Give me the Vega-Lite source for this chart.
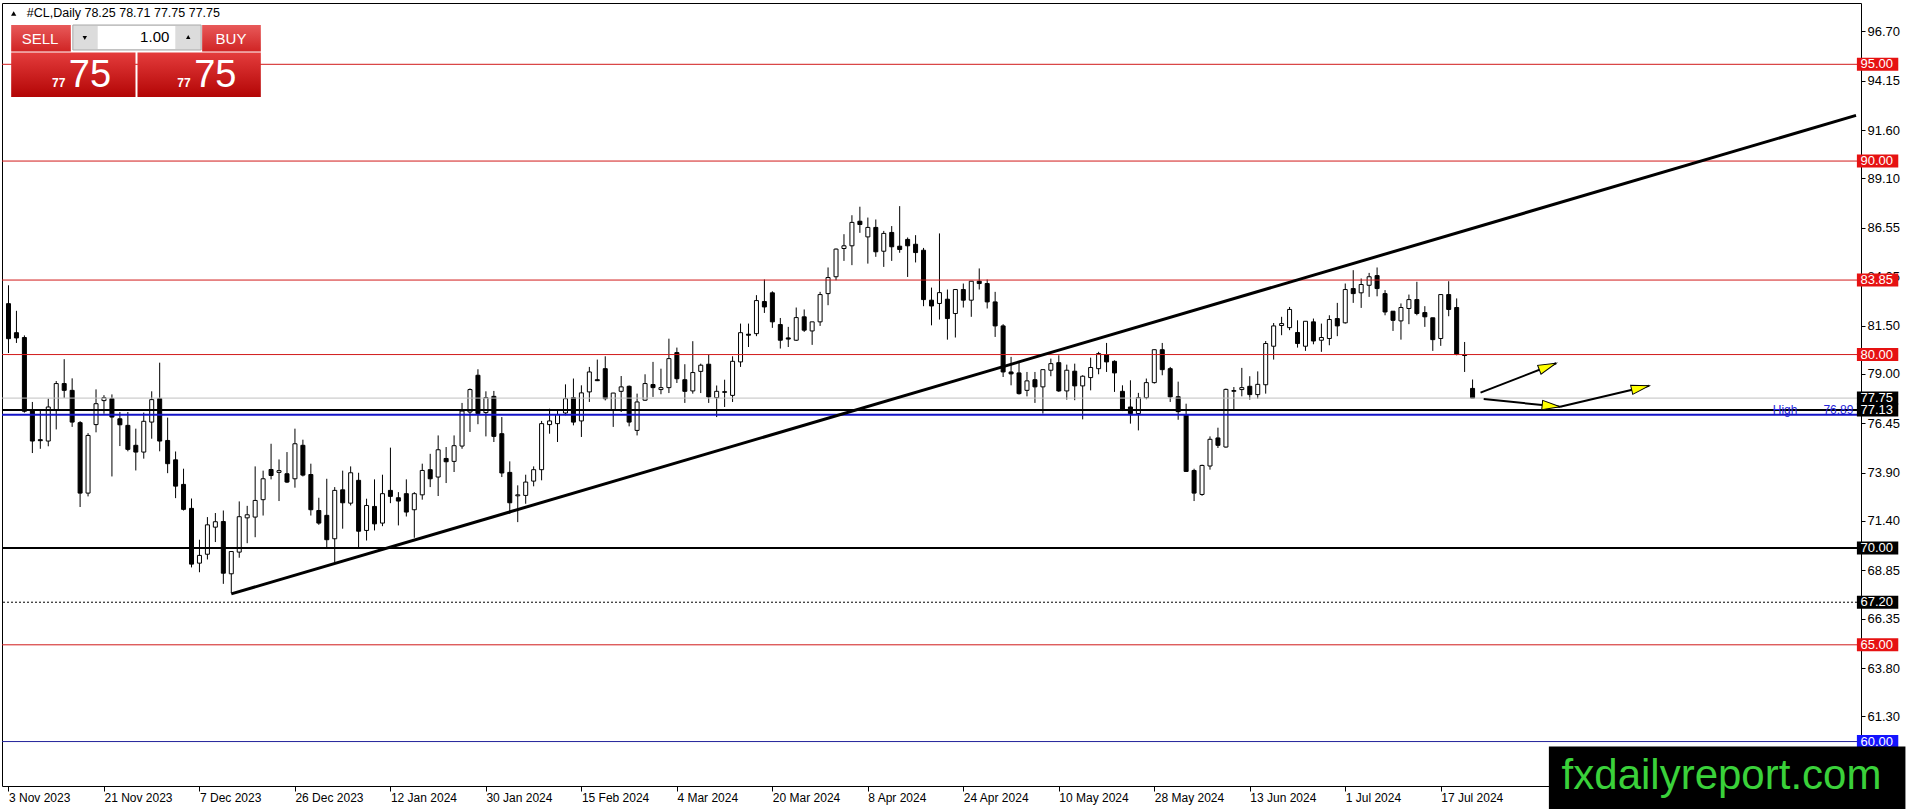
{
  "$schema": "https://vega.github.io/schema/vega-lite/v6.json",
  "width": 1859,
  "height": 783,
  "autosize": {"type": "none"},
  "padding": {"left": 2, "top": 3, "right": 49, "bottom": 23},
  "background": "#ffffff",
  "config": {
    "view": {"stroke": "#000000", "strokeWidth": 1},
    "axis": {"grid": false, "domain": false, "tickColor": "#000000", "labelColor": "#000000", "labelFont": "Liberation Sans", "titleOpacity": 0}
  },
  "datasets": {
    "bars": [
      {"i":0,"d":"2023-11-03","o":82.63,"h":83.58,"l":80.08,"c":80.82},
      {"i":1,"d":"2023-11-06","o":81.13,"h":82.26,"l":80.6,"c":80.86},
      {"i":2,"d":"2023-11-07","o":80.88,"h":80.99,"l":77.0,"c":77.07},
      {"i":3,"d":"2023-11-08","o":77.12,"h":77.55,"l":74.91,"c":75.53},
      {"i":4,"d":"2023-11-09","o":75.6,"h":77.12,"l":75.13,"c":75.55},
      {"i":5,"d":"2023-11-10","o":75.53,"h":77.72,"l":75.26,"c":77.29},
      {"i":6,"d":"2023-11-13","o":77.15,"h":78.63,"l":76.13,"c":78.5},
      {"i":7,"d":"2023-11-14","o":78.5,"h":79.76,"l":77.76,"c":78.15},
      {"i":8,"d":"2023-11-15","o":78.15,"h":78.77,"l":76.26,"c":76.51},
      {"i":9,"d":"2023-11-16","o":76.48,"h":76.56,"l":72.12,"c":72.84},
      {"i":10,"d":"2023-11-17","o":72.84,"h":75.94,"l":72.67,"c":75.82},
      {"i":11,"d":"2023-11-20","o":76.38,"h":78.2,"l":75.98,"c":77.46},
      {"i":12,"d":"2023-11-21","o":77.62,"h":77.9,"l":76.94,"c":77.77},
      {"i":13,"d":"2023-11-22","o":77.72,"h":77.94,"l":73.7,"c":76.77},
      {"i":14,"d":"2023-11-23","o":76.68,"h":77.03,"l":75.27,"c":76.37},
      {"i":15,"d":"2023-11-24","o":76.34,"h":77.03,"l":75.0,"c":75.1},
      {"i":16,"d":"2023-11-27","o":75.31,"h":76.17,"l":74.01,"c":74.96},
      {"i":17,"d":"2023-11-28","o":74.96,"h":77.0,"l":74.62,"c":76.55},
      {"i":18,"d":"2023-11-29","o":76.51,"h":78.1,"l":75.65,"c":77.67},
      {"i":19,"d":"2023-11-30","o":77.72,"h":79.58,"l":75.0,"c":75.53},
      {"i":20,"d":"2023-12-01","o":75.56,"h":76.74,"l":73.87,"c":74.36},
      {"i":21,"d":"2023-12-04","o":74.56,"h":74.99,"l":72.58,"c":73.2},
      {"i":22,"d":"2023-12-05","o":73.29,"h":74.1,"l":71.94,"c":72.0},
      {"i":23,"d":"2023-12-06","o":72.05,"h":72.56,"l":69.0,"c":69.17},
      {"i":24,"d":"2023-12-07","o":69.22,"h":70.43,"l":68.75,"c":69.62},
      {"i":25,"d":"2023-12-08","o":69.68,"h":71.6,"l":69.41,"c":71.2},
      {"i":26,"d":"2023-12-11","o":71.08,"h":71.81,"l":70.31,"c":71.36},
      {"i":27,"d":"2023-12-12","o":71.37,"h":71.94,"l":68.15,"c":68.7},
      {"i":28,"d":"2023-12-13","o":68.67,"h":69.84,"l":67.67,"c":69.82},
      {"i":29,"d":"2023-12-14","o":69.79,"h":72.41,"l":69.5,"c":71.62},
      {"i":30,"d":"2023-12-15","o":71.56,"h":72.18,"l":70.25,"c":71.72},
      {"i":31,"d":"2023-12-18","o":71.6,"h":74.22,"l":70.56,"c":72.46},
      {"i":32,"d":"2023-12-19","o":72.5,"h":74.0,"l":71.68,"c":73.58},
      {"i":33,"d":"2023-12-20","o":74.06,"h":75.39,"l":73.55,"c":73.75},
      {"i":34,"d":"2023-12-21","o":73.91,"h":74.58,"l":72.43,"c":74.0},
      {"i":35,"d":"2023-12-22","o":73.84,"h":74.96,"l":73.36,"c":73.41},
      {"i":36,"d":"2023-12-26","o":73.58,"h":76.17,"l":73.12,"c":75.39},
      {"i":37,"d":"2023-12-27","o":75.31,"h":75.6,"l":73.7,"c":73.77},
      {"i":38,"d":"2023-12-28","o":73.8,"h":74.36,"l":71.68,"c":71.98},
      {"i":39,"d":"2023-12-29","o":71.94,"h":72.6,"l":71.2,"c":71.29},
      {"i":40,"d":"2024-01-02","o":71.69,"h":73.58,"l":70.05,"c":70.43},
      {"i":41,"d":"2024-01-03","o":70.48,"h":73.15,"l":69.27,"c":72.98},
      {"i":42,"d":"2024-01-04","o":73.01,"h":74.0,"l":71.0,"c":72.34},
      {"i":43,"d":"2024-01-05","o":72.32,"h":74.22,"l":72.2,"c":73.89},
      {"i":44,"d":"2024-01-08","o":73.5,"h":73.89,"l":70.05,"c":70.87},
      {"i":45,"d":"2024-01-09","o":70.91,"h":72.55,"l":70.39,"c":72.2},
      {"i":46,"d":"2024-01-10","o":72.15,"h":73.55,"l":70.91,"c":71.25},
      {"i":47,"d":"2024-01-11","o":71.29,"h":73.79,"l":71.13,"c":72.81},
      {"i":48,"d":"2024-01-12","o":72.98,"h":75.19,"l":72.32,"c":72.67},
      {"i":49,"d":"2024-01-15","o":72.6,"h":72.89,"l":71.17,"c":72.43},
      {"i":50,"d":"2024-01-16","o":72.81,"h":73.55,"l":71.63,"c":71.86},
      {"i":51,"d":"2024-01-17","o":71.98,"h":72.89,"l":70.53,"c":72.81},
      {"i":52,"d":"2024-01-18","o":72.75,"h":74.36,"l":72.5,"c":74.01},
      {"i":53,"d":"2024-01-19","o":74.05,"h":74.87,"l":73.15,"c":73.58},
      {"i":54,"d":"2024-01-22","o":73.67,"h":75.82,"l":72.69,"c":75.08},
      {"i":55,"d":"2024-01-23","o":74.63,"h":75.22,"l":73.36,"c":74.46},
      {"i":56,"d":"2024-01-24","o":74.48,"h":75.82,"l":73.93,"c":75.29},
      {"i":57,"d":"2024-01-25","o":75.27,"h":77.5,"l":75.13,"c":77.08},
      {"i":58,"d":"2024-01-26","o":77.03,"h":78.25,"l":76.0,"c":78.19},
      {"i":59,"d":"2024-01-29","o":78.93,"h":79.24,"l":76.4,"c":76.95},
      {"i":60,"d":"2024-01-30","o":77.0,"h":78.1,"l":75.77,"c":77.77},
      {"i":61,"d":"2024-01-31","o":77.84,"h":78.12,"l":75.48,"c":75.77},
      {"i":62,"d":"2024-02-01","o":75.91,"h":76.77,"l":73.67,"c":73.88},
      {"i":63,"d":"2024-02-02","o":73.91,"h":74.48,"l":71.77,"c":72.34},
      {"i":64,"d":"2024-02-05","o":72.7,"h":73.24,"l":71.34,"c":72.75},
      {"i":65,"d":"2024-02-06","o":72.72,"h":73.79,"l":72.29,"c":73.41},
      {"i":66,"d":"2024-02-07","o":73.46,"h":74.22,"l":73.19,"c":74.05},
      {"i":67,"d":"2024-02-08","o":74.05,"h":76.57,"l":73.5,"c":76.43},
      {"i":68,"d":"2024-02-09","o":76.38,"h":77.2,"l":75.91,"c":76.57},
      {"i":69,"d":"2024-02-12","o":76.43,"h":77.1,"l":75.48,"c":76.9},
      {"i":70,"d":"2024-02-13","o":76.98,"h":78.46,"l":76.86,"c":77.72},
      {"i":71,"d":"2024-02-14","o":77.77,"h":78.76,"l":76.34,"c":76.51},
      {"i":72,"d":"2024-02-15","o":76.57,"h":78.41,"l":75.74,"c":78.02},
      {"i":73,"d":"2024-02-16","o":78.07,"h":79.36,"l":77.55,"c":79.1},
      {"i":74,"d":"2024-02-19","o":78.7,"h":79.74,"l":78.63,"c":78.65},
      {"i":75,"d":"2024-02-20","o":79.27,"h":79.91,"l":77.63,"c":77.72},
      {"i":76,"d":"2024-02-21","o":77.12,"h":78.02,"l":76.26,"c":78.01},
      {"i":77,"d":"2024-02-22","o":78.1,"h":78.89,"l":77.03,"c":78.33},
      {"i":78,"d":"2024-02-23","o":78.36,"h":78.4,"l":76.29,"c":76.51},
      {"i":79,"d":"2024-02-26","o":76.08,"h":77.98,"l":75.82,"c":77.55},
      {"i":80,"d":"2024-02-27","o":77.64,"h":78.98,"l":77.6,"c":78.5},
      {"i":81,"d":"2024-02-28","o":78.45,"h":79.62,"l":77.81,"c":78.29},
      {"i":82,"d":"2024-02-29","o":78.19,"h":79.27,"l":77.95,"c":78.29},
      {"i":83,"d":"2024-03-01","o":78.29,"h":80.82,"l":78.01,"c":79.79},
      {"i":84,"d":"2024-03-04","o":80.1,"h":80.36,"l":78.53,"c":78.75},
      {"i":85,"d":"2024-03-05","o":78.7,"h":79.5,"l":77.5,"c":78.1},
      {"i":86,"d":"2024-03-06","o":78.12,"h":80.69,"l":77.98,"c":79.07},
      {"i":87,"d":"2024-03-07","o":79.13,"h":79.53,"l":78.01,"c":79.45},
      {"i":88,"d":"2024-03-08","o":79.5,"h":80.0,"l":77.5,"c":77.81},
      {"i":89,"d":"2024-03-11","o":77.77,"h":78.4,"l":76.77,"c":78.1},
      {"i":90,"d":"2024-03-12","o":78.08,"h":78.7,"l":77.29,"c":78.05},
      {"i":91,"d":"2024-03-13","o":77.89,"h":79.91,"l":77.55,"c":79.65},
      {"i":92,"d":"2024-03-14","o":79.62,"h":81.6,"l":79.36,"c":81.13},
      {"i":93,"d":"2024-03-15","o":81.05,"h":81.6,"l":80.39,"c":81.0},
      {"i":94,"d":"2024-03-18","o":81.08,"h":83.07,"l":80.95,"c":82.79},
      {"i":95,"d":"2024-03-19","o":82.74,"h":83.88,"l":82.15,"c":82.46},
      {"i":96,"d":"2024-03-20","o":83.19,"h":83.27,"l":81.38,"c":81.69},
      {"i":97,"d":"2024-03-21","o":81.55,"h":81.89,"l":80.31,"c":80.74},
      {"i":98,"d":"2024-03-22","o":80.86,"h":81.43,"l":80.39,"c":80.8},
      {"i":99,"d":"2024-03-25","o":80.74,"h":82.43,"l":80.7,"c":81.91},
      {"i":100,"d":"2024-03-26","o":81.95,"h":82.33,"l":81.17,"c":81.26},
      {"i":101,"d":"2024-03-27","o":81.22,"h":81.69,"l":80.5,"c":81.69},
      {"i":102,"d":"2024-03-28","o":81.69,"h":83.24,"l":81.48,"c":83.1},
      {"i":103,"d":"2024-04-01","o":83.15,"h":84.5,"l":82.55,"c":83.98},
      {"i":104,"d":"2024-04-02","o":84.02,"h":85.48,"l":83.84,"c":85.45},
      {"i":105,"d":"2024-04-03","o":85.48,"h":86.22,"l":84.84,"c":85.62},
      {"i":106,"d":"2024-04-04","o":85.62,"h":87.2,"l":84.62,"c":86.83},
      {"i":107,"d":"2024-04-05","o":86.89,"h":87.64,"l":86.29,"c":86.72},
      {"i":108,"d":"2024-04-08","o":86.08,"h":87.08,"l":84.7,"c":86.57},
      {"i":109,"d":"2024-04-09","o":86.57,"h":86.98,"l":85.05,"c":85.31},
      {"i":110,"d":"2024-04-10","o":85.34,"h":86.39,"l":84.53,"c":86.26},
      {"i":111,"d":"2024-04-11","o":86.31,"h":86.64,"l":84.84,"c":85.57},
      {"i":112,"d":"2024-04-12","o":85.6,"h":87.67,"l":85.26,"c":85.43},
      {"i":113,"d":"2024-04-15","o":85.95,"h":86.05,"l":84.01,"c":85.62},
      {"i":114,"d":"2024-04-16","o":85.7,"h":86.17,"l":84.76,"c":85.27},
      {"i":115,"d":"2024-04-17","o":85.39,"h":85.51,"l":82.5,"c":82.84},
      {"i":116,"d":"2024-04-18","o":82.81,"h":83.46,"l":81.51,"c":82.51},
      {"i":117,"d":"2024-04-19","o":82.64,"h":86.26,"l":81.81,"c":83.2},
      {"i":118,"d":"2024-04-22","o":82.86,"h":83.36,"l":80.77,"c":81.86},
      {"i":119,"d":"2024-04-23","o":82.12,"h":83.36,"l":80.88,"c":83.36},
      {"i":120,"d":"2024-04-24","o":83.36,"h":83.67,"l":82.43,"c":82.81},
      {"i":121,"d":"2024-04-25","o":82.81,"h":83.79,"l":81.95,"c":83.79},
      {"i":122,"d":"2024-04-26","o":83.79,"h":84.45,"l":83.36,"c":83.67},
      {"i":123,"d":"2024-04-29","o":83.67,"h":83.88,"l":82.38,"c":82.72},
      {"i":124,"d":"2024-04-30","o":82.72,"h":83.24,"l":80.91,"c":81.48},
      {"i":125,"d":"2024-05-01","o":81.48,"h":81.57,"l":78.84,"c":79.1},
      {"i":126,"d":"2024-05-02","o":79.1,"h":79.88,"l":78.41,"c":79.0},
      {"i":127,"d":"2024-05-03","o":79.05,"h":79.58,"l":77.93,"c":77.98},
      {"i":128,"d":"2024-05-06","o":78.15,"h":79.1,"l":77.84,"c":78.64},
      {"i":129,"d":"2024-05-07","o":78.7,"h":79.1,"l":77.5,"c":78.33},
      {"i":130,"d":"2024-05-08","o":78.33,"h":79.22,"l":76.95,"c":79.22},
      {"i":131,"d":"2024-05-09","o":79.19,"h":79.79,"l":78.88,"c":79.53},
      {"i":132,"d":"2024-05-10","o":79.58,"h":79.96,"l":78.07,"c":78.12},
      {"i":133,"d":"2024-05-13","o":78.12,"h":79.48,"l":77.67,"c":79.19},
      {"i":134,"d":"2024-05-14","o":79.14,"h":79.53,"l":77.64,"c":78.38},
      {"i":135,"d":"2024-05-15","o":78.38,"h":78.93,"l":76.65,"c":78.88},
      {"i":136,"d":"2024-05-16","o":78.81,"h":79.84,"l":78.15,"c":79.33},
      {"i":137,"d":"2024-05-17","o":79.27,"h":80.14,"l":78.98,"c":80.05},
      {"i":138,"d":"2024-05-20","o":80.0,"h":80.6,"l":79.1,"c":79.62},
      {"i":139,"d":"2024-05-21","o":79.65,"h":79.7,"l":78.07,"c":79.05},
      {"i":140,"d":"2024-05-22","o":78.1,"h":78.41,"l":77.08,"c":77.12},
      {"i":141,"d":"2024-05-23","o":77.29,"h":78.67,"l":76.43,"c":76.95},
      {"i":142,"d":"2024-05-24","o":76.95,"h":78.02,"l":76.08,"c":77.77},
      {"i":143,"d":"2024-05-27","o":77.77,"h":78.76,"l":77.69,"c":78.55},
      {"i":144,"d":"2024-05-28","o":78.55,"h":80.26,"l":78.5,"c":80.25},
      {"i":145,"d":"2024-05-29","o":80.25,"h":80.6,"l":78.93,"c":79.22},
      {"i":146,"d":"2024-05-30","o":79.27,"h":79.36,"l":77.55,"c":77.81},
      {"i":147,"d":"2024-05-31","o":77.82,"h":78.6,"l":76.63,"c":77.05},
      {"i":148,"d":"2024-06-03","o":76.89,"h":77.46,"l":73.93,"c":73.96},
      {"i":149,"d":"2024-06-04","o":74.01,"h":74.1,"l":72.43,"c":72.84},
      {"i":150,"d":"2024-06-05","o":72.77,"h":74.31,"l":72.7,"c":74.27},
      {"i":151,"d":"2024-06-06","o":74.24,"h":75.77,"l":74.05,"c":75.62},
      {"i":152,"d":"2024-06-07","o":75.69,"h":76.22,"l":75.17,"c":75.31},
      {"i":153,"d":"2024-06-10","o":75.22,"h":78.24,"l":75.19,"c":78.2},
      {"i":154,"d":"2024-06-11","o":78.1,"h":78.32,"l":77.12,"c":78.14},
      {"i":155,"d":"2024-06-12","o":78.19,"h":79.31,"l":77.84,"c":78.29},
      {"i":156,"d":"2024-06-13","o":78.36,"h":78.88,"l":77.67,"c":77.93},
      {"i":157,"d":"2024-06-14","o":77.93,"h":79.13,"l":77.72,"c":78.46},
      {"i":158,"d":"2024-06-17","o":78.44,"h":80.7,"l":77.98,"c":80.57},
      {"i":159,"d":"2024-06-18","o":80.43,"h":81.63,"l":79.74,"c":81.48},
      {"i":160,"d":"2024-06-19","o":81.5,"h":81.95,"l":81.0,"c":81.6},
      {"i":161,"d":"2024-06-20","o":81.39,"h":82.46,"l":81.26,"c":82.33},
      {"i":162,"d":"2024-06-21","o":81.14,"h":81.77,"l":80.36,"c":80.57},
      {"i":163,"d":"2024-06-24","o":80.43,"h":81.72,"l":80.19,"c":81.72},
      {"i":164,"d":"2024-06-25","o":81.69,"h":81.86,"l":80.53,"c":80.7},
      {"i":165,"d":"2024-06-26","o":80.74,"h":81.6,"l":80.14,"c":80.88},
      {"i":166,"d":"2024-06-27","o":80.83,"h":82.03,"l":80.48,"c":81.81},
      {"i":167,"d":"2024-06-28","o":81.86,"h":82.67,"l":80.95,"c":81.48},
      {"i":168,"d":"2024-07-01","o":81.64,"h":83.67,"l":81.6,"c":83.36},
      {"i":169,"d":"2024-07-02","o":83.41,"h":84.36,"l":82.67,"c":83.15},
      {"i":170,"d":"2024-07-03","o":83.19,"h":83.93,"l":82.41,"c":83.62},
      {"i":171,"d":"2024-07-04","o":83.58,"h":84.22,"l":82.98,"c":84.02},
      {"i":172,"d":"2024-07-05","o":84.08,"h":84.5,"l":83.01,"c":83.41},
      {"i":173,"d":"2024-07-08","o":83.15,"h":83.33,"l":82.03,"c":82.2},
      {"i":174,"d":"2024-07-09","o":82.24,"h":82.24,"l":81.22,"c":81.77},
      {"i":175,"d":"2024-07-10","o":81.74,"h":82.64,"l":80.77,"c":82.43},
      {"i":176,"d":"2024-07-11","o":82.38,"h":83.1,"l":81.57,"c":82.84},
      {"i":177,"d":"2024-07-12","o":82.84,"h":83.76,"l":82.03,"c":82.12},
      {"i":178,"d":"2024-07-15","o":82.17,"h":82.5,"l":81.43,"c":81.95},
      {"i":179,"d":"2024-07-16","o":81.9,"h":81.9,"l":80.19,"c":80.77},
      {"i":180,"d":"2024-07-17","o":80.83,"h":83.1,"l":80.45,"c":83.1},
      {"i":181,"d":"2024-07-18","o":83.1,"h":83.79,"l":81.98,"c":82.33},
      {"i":182,"d":"2024-07-19","o":82.43,"h":82.9,"l":79.96,"c":80.02},
      {"i":183,"d":"2024-07-22","o":80.0,"h":80.65,"l":79.1,"c":79.95},
      {"i":184,"d":"2024-07-23","o":78.25,"h":78.71,"l":77.75,"c":77.75}
    ],
    "levels": [
      {"p": 95, "k": "r"},
      {"p": 90, "k": "r"},
      {"p": 83.85, "k": "r"},
      {"p": 80, "k": "r"},
      {"p": 77.75, "k": "g"},
      {"p": 77.13, "k": "s"},
      {"p": 76.89, "k": "h"},
      {"p": 70, "k": "s"},
      {"p": 67.2, "k": "d"},
      {"p": 65, "k": "r"},
      {"p": 60, "k": "b"}
    ],
    "trend": [
      {"i": 28, "p": 67.63, "i2": 232.19, "p2": 92.36}
    ],
    "arrows": [
      {"a": 1, "i": 185.0, "p": 78.03, "i2": 194.5, "p2": 79.55},
      {"a": 2, "i": 185.4, "p": 77.70, "i2": 195.0, "p2": 77.30},
      {"a": 3, "i": 195.0, "p": 77.30, "i2": 206.2, "p2": 78.39}
    ]
  },
  "data": {"name": "bars"},
  "layer": [
    {
      "mark": {"type": "rule", "color": "#000000", "strokeWidth": 1, "clip": true},
      "encoding": {
        "x": {
          "field": "i", "type": "quantitative", "title": null,
          "scale": {"domain": [-0.1875, 232.1875], "nice": false, "zero": false},
          "axis": {
            "orient": "bottom",
            "values": [0, 12, 24, 36, 48, 60, 72, 84, 96, 108, 120, 132, 144, 156, 168, 180],
            "labelExpr": "['3 Nov 2023','21 Nov 2023','7 Dec 2023','26 Dec 2023','12 Jan 2024','30 Jan 2024','15 Feb 2024','4 Mar 2024','20 Mar 2024','8 Apr 2024','24 Apr 2024','10 May 2024','28 May 2024','13 Jun 2024','1 Jul 2024','17 Jul 2024'][round(datum.value / 12)]",
            "labelAlign": "left", "labelBaseline": "top", "labelFontSize": 12,
            "tickSize": 5, "labelPadding": 1, "labelOverlap": false, "labelFlush": false, "labelBound": false
          }
        },
        "y": {
          "field": "l", "type": "quantitative", "title": null,
          "scale": {"domain": [57.703, 98.168], "nice": false, "zero": false},
          "axis": {
            "orient": "right",
            "values": [96.7, 94.15, 91.6, 89.1, 86.55, 84.05, 81.5, 79.0, 76.45, 73.9, 71.4, 68.85, 66.35, 63.8, 61.3],
            "format": ".2f", "labelFontSize": 13, "tickSize": 4, "labelPadding": 2, "labelOverlap": false, "labelFlush": false, "labelBound": false
          }
        },
        "y2": {"field": "h"}
      }
    },
    {
      "mark": {"type": "bar", "width": 4, "stroke": "#000000", "strokeWidth": 1, "clip": true},
      "encoding": {
        "x": {"field": "i", "type": "quantitative", "title": null},
        "y": {"field": "o", "type": "quantitative", "title": null},
        "y2": {"field": "c"},
        "fill": {"condition": {"test": "datum.c >= datum.o", "value": "#ffffff"}, "value": "#000000"}
      }
    },
    {
      "data": {"name": "levels"},
      "transform": [{"filter": "datum.k == 'r'"}],
      "mark": {"type": "rule", "color": "#d11a1a", "strokeWidth": 1},
      "encoding": {"y": {"field": "p", "type": "quantitative", "title": null}}
    },
    {
      "data": {"name": "levels"},
      "transform": [{"filter": "datum.k == 'g'"}],
      "mark": {"type": "rule", "color": "#c0c0c0", "strokeWidth": 1},
      "encoding": {"y": {"field": "p", "type": "quantitative", "title": null}}
    },
    {
      "data": {"name": "levels"},
      "transform": [{"filter": "datum.k == 's'"}],
      "mark": {"type": "rule", "color": "#000000", "strokeWidth": 2},
      "encoding": {"y": {"field": "p", "type": "quantitative", "title": null}}
    },
    {
      "data": {"name": "levels"},
      "transform": [{"filter": "datum.k == 'd'"}],
      "mark": {"type": "rule", "color": "#000000", "strokeWidth": 1, "strokeDash": [2, 2]},
      "encoding": {"y": {"field": "p", "type": "quantitative", "title": null}}
    },
    {
      "data": {"name": "levels"},
      "transform": [{"filter": "datum.k == 'h'"}],
      "mark": {"type": "rule", "color": "#1414c8", "strokeWidth": 2},
      "encoding": {"y": {"field": "p", "type": "quantitative", "title": null}}
    },
    {
      "data": {"name": "levels"},
      "transform": [{"filter": "datum.k == 'b'"}],
      "mark": {"type": "rule", "color": "#22229a", "strokeWidth": 1},
      "encoding": {"y": {"field": "p", "type": "quantitative", "title": null}}
    },
    {
      "data": {"name": "trend"},
      "mark": {"type": "rule", "color": "#000000", "strokeWidth": 3, "clip": true},
      "encoding": {
        "x": {"field": "i", "type": "quantitative", "title": null},
        "y": {"field": "p", "type": "quantitative", "title": null},
        "x2": {"field": "i2"},
        "y2": {"field": "p2"}
      }
    },
    {
      "data": {"name": "arrows"},
      "mark": {"type": "rule", "color": "#000000", "strokeWidth": 2},
      "encoding": {
        "x": {"field": "i", "type": "quantitative", "title": null},
        "y": {"field": "p", "type": "quantitative", "title": null},
        "x2": {"field": "i2"},
        "y2": {"field": "p2"}
      }
    },
    {
      "data": {"name": "arrows"},
      "transform": [{"filter": "datum.a == 1"}],
      "mark": {"type": "point", "shape": "M0,0L-1,-0.26L-1,0.26Z", "size": 1296, "angle": 338.9, "filled": true, "fill": "#ffff00", "stroke": "#000000", "strokeWidth": 1, "opacity": 1},
      "encoding": {
        "x": {"field": "i2", "type": "quantitative", "title": null},
        "y": {"field": "p2", "type": "quantitative", "title": null}
      }
    },
    {
      "data": {"name": "arrows"},
      "transform": [{"filter": "datum.a == 2"}],
      "mark": {"type": "point", "shape": "M0,0L-1,-0.26L-1,0.26Z", "size": 1296, "angle": 5.7, "filled": true, "fill": "#ffff00", "stroke": "#000000", "strokeWidth": 1, "opacity": 1},
      "encoding": {
        "x": {"field": "i2", "type": "quantitative", "title": null},
        "y": {"field": "p2", "type": "quantitative", "title": null}
      }
    },
    {
      "data": {"name": "arrows"},
      "transform": [{"filter": "datum.a == 3"}],
      "mark": {"type": "point", "shape": "M0,0L-1,-0.26L-1,0.26Z", "size": 1296, "angle": 346.8, "filled": true, "fill": "#ffff00", "stroke": "#000000", "strokeWidth": 1, "opacity": 1},
      "encoding": {
        "x": {"field": "i2", "type": "quantitative", "title": null},
        "y": {"field": "p2", "type": "quantitative", "title": null}
      }
    },
    {
      "data": {"name": "levels"},
      "transform": [{"filter": "datum.k == 'h'"}],
      "mark": {"type": "text", "align": "right", "baseline": "alphabetic", "font": "Liberation Sans", "fontSize": 12, "color": "#2424d8", "dx": -56, "dy": -1},
      "encoding": {
        "x": {"datum": 231.87, "type": "quantitative"},
        "y": {"field": "p", "type": "quantitative", "title": null},
        "text": {"value": "High"}
      }
    },
    {
      "data": {"name": "levels"},
      "transform": [{"filter": "datum.k == 'h'"}],
      "mark": {"type": "text", "align": "right", "baseline": "alphabetic", "font": "Liberation Sans", "fontSize": 12, "color": "#2424d8", "dy": -1},
      "encoding": {
        "x": {"datum": 231.87, "type": "quantitative"},
        "y": {"field": "p", "type": "quantitative", "title": null},
        "text": {"field": "p", "type": "quantitative", "format": ".2f"}
      }
    },
    {
      "data": {"name": "levels"},
      "transform": [{"filter": "datum.k != 'h'"}],
      "mark": {"type": "rule", "strokeWidth": 13, "strokeCap": "butt"},
      "encoding": {
        "x": {"datum": 232.3, "type": "quantitative"},
        "x2": {"datum": 237.5},
        "y": {"field": "p", "type": "quantitative", "title": null},
        "color": {"field": "k", "type": "nominal", "legend": null, "scale": {"domain": ["r", "g", "s", "d", "b"], "range": ["#e61212", "#000000", "#000000", "#000000", "#1414ff"]}}
      }
    },
    {
      "data": {"name": "levels"},
      "transform": [{"filter": "datum.k != 'h'"}],
      "mark": {"type": "text", "align": "left", "baseline": "middle", "font": "Liberation Sans", "fontSize": 13, "color": "#ffffff"},
      "encoding": {
        "x": {"datum": 232.75, "type": "quantitative"},
        "y": {"field": "p", "type": "quantitative", "title": null},
        "text": {"field": "p", "type": "quantitative", "format": ".2f"}
      }
    },
    {
      "data": {"values": [{}]},
      "mark": {"type": "point", "shape": "triangle-up", "filled": true, "color": "#000000", "size": 28, "opacity": 1},
      "encoding": {
        "x": {"datum": 0.65, "type": "quantitative"},
        "y": {"datum": 97.625, "type": "quantitative"}
      }
    },
    {
      "data": {"values": [{"t": "#CL,Daily  78.25 78.71 77.75 77.75"}]},
      "mark": {"type": "text", "align": "left", "baseline": "alphabetic", "font": "Liberation Sans", "fontSize": 12.5, "color": "#000000"},
      "encoding": {
        "x": {"datum": 2.3, "type": "quantitative"},
        "y": {"datum": 97.43, "type": "quantitative"},
        "text": {"field": "t"}
      }
    },
    {
      "data": {"values": [{}]},
      "mark": {"type": "rect", "fill": {"x1": 0, "y1": 0, "x2": 0, "y2": 1, "gradient": "linear", "stops": [{"offset": 0, "color": "#e85a5a"}, {"offset": 1, "color": "#d02424"}]}},
      "encoding": {
        "x": {"datum": 0.3375, "type": "quantitative"}, "x2": {"datum": 7.8375},
        "y": {"datum": 97.031, "type": "quantitative"}, "y2": {"datum": 95.661}
      }
    },
    {
      "data": {"values": [{}]},
      "mark": {"type": "rect", "fill": {"x1": 0, "y1": 0, "x2": 0, "y2": 1, "gradient": "linear", "stops": [{"offset": 0, "color": "#e85a5a"}, {"offset": 1, "color": "#d02424"}]}},
      "encoding": {
        "x": {"datum": 24.3375, "type": "quantitative"}, "x2": {"datum": 31.7125},
        "y": {"datum": 97.031, "type": "quantitative"}, "y2": {"datum": 95.661}
      }
    },
    {
      "data": {"values": [{}]},
      "mark": {"type": "rect", "fill": {"x1": 0, "y1": 0, "x2": 0, "y2": 1, "gradient": "linear", "stops": [{"offset": 0, "color": "#e43c3c"}, {"offset": 1, "color": "#b30505"}]}},
      "encoding": {
        "x": {"datum": 0.3375, "type": "quantitative"}, "x2": {"datum": 15.9625},
        "y": {"datum": 95.61, "type": "quantitative"}, "y2": {"datum": 93.31}
      }
    },
    {
      "data": {"values": [{}]},
      "mark": {"type": "rect", "fill": {"x1": 0, "y1": 0, "x2": 0, "y2": 1, "gradient": "linear", "stops": [{"offset": 0, "color": "#e43c3c"}, {"offset": 1, "color": "#b30505"}]}},
      "encoding": {
        "x": {"datum": 16.2125, "type": "quantitative"}, "x2": {"datum": 31.7125},
        "y": {"datum": 95.61, "type": "quantitative"}, "y2": {"datum": 93.31}
      }
    },
    {
      "data": {"values": [{}]},
      "mark": {"type": "rect", "fill": "#dcdcdc", "stroke": "#a8a8a8", "strokeWidth": 1},
      "encoding": {
        "x": {"datum": 8.0875, "type": "quantitative"}, "x2": {"datum": 24.2125},
        "y": {"datum": 97.031, "type": "quantitative"}, "y2": {"datum": 95.739}
      }
    },
    {
      "data": {"values": [{}]},
      "mark": {"type": "rect", "fill": "#ffffff"},
      "encoding": {
        "x": {"datum": 11.2125, "type": "quantitative"}, "x2": {"datum": 20.9625},
        "y": {"datum": 96.979, "type": "quantitative"}, "y2": {"datum": 95.791}
      }
    },
    {
      "data": {"values": [{}]},
      "mark": {"type": "point", "shape": "triangle-down", "filled": true, "color": "#000000", "size": 20, "opacity": 1},
      "encoding": {
        "x": {"datum": 9.5875, "type": "quantitative"},
        "y": {"datum": 96.36, "type": "quantitative"}
      }
    },
    {
      "data": {"values": [{}]},
      "mark": {"type": "point", "shape": "triangle-up", "filled": true, "color": "#000000", "size": 20, "opacity": 1},
      "encoding": {
        "x": {"datum": 22.5875, "type": "quantitative"},
        "y": {"datum": 96.41, "type": "quantitative"}
      }
    },
    {
      "data": {"values": [{"t": "1.00"}]},
      "mark": {"type": "text", "align": "right", "baseline": "middle", "font": "Liberation Sans", "fontSize": 15, "color": "#000000"},
      "encoding": {
        "x": {"datum": 20.2125, "type": "quantitative"},
        "y": {"datum": 96.41, "type": "quantitative"},
        "text": {"field": "t"}
      }
    },
    {
      "data": {"values": [{"t": "SELL"}]},
      "mark": {"type": "text", "align": "center", "baseline": "middle", "font": "Liberation Sans", "fontSize": 15, "color": "#ffffff"},
      "encoding": {
        "x": {"datum": 3.9625, "type": "quantitative"},
        "y": {"datum": 96.307, "type": "quantitative"},
        "text": {"field": "t"}
      }
    },
    {
      "data": {"values": [{"t": "BUY"}]},
      "mark": {"type": "text", "align": "center", "baseline": "middle", "font": "Liberation Sans", "fontSize": 15, "color": "#ffffff"},
      "encoding": {
        "x": {"datum": 27.9625, "type": "quantitative"},
        "y": {"datum": 96.307, "type": "quantitative"},
        "text": {"field": "t"}
      }
    },
    {
      "data": {"values": [{"t": "77"}]},
      "mark": {"type": "text", "align": "left", "baseline": "alphabetic", "font": "Liberation Sans", "fontSize": 12, "fontWeight": "bold", "color": "#ffffff"},
      "encoding": {
        "x": {"datum": 5.4625, "type": "quantitative"},
        "y": {"datum": 93.827, "type": "quantitative"},
        "text": {"field": "t"}
      }
    },
    {
      "data": {"values": [{"t": "75"}]},
      "mark": {"type": "text", "align": "left", "baseline": "alphabetic", "font": "Liberation Sans", "fontSize": 38, "color": "#ffffff"},
      "encoding": {
        "x": {"datum": 7.5875, "type": "quantitative"},
        "y": {"datum": 93.827, "type": "quantitative"},
        "text": {"field": "t"}
      }
    },
    {
      "data": {"values": [{"t": "77"}]},
      "mark": {"type": "text", "align": "left", "baseline": "alphabetic", "font": "Liberation Sans", "fontSize": 12, "fontWeight": "bold", "color": "#ffffff"},
      "encoding": {
        "x": {"datum": 21.2125, "type": "quantitative"},
        "y": {"datum": 93.827, "type": "quantitative"},
        "text": {"field": "t"}
      }
    },
    {
      "data": {"values": [{"t": "75"}]},
      "mark": {"type": "text", "align": "left", "baseline": "alphabetic", "font": "Liberation Sans", "fontSize": 38, "color": "#ffffff"},
      "encoding": {
        "x": {"datum": 23.3375, "type": "quantitative"},
        "y": {"datum": 93.827, "type": "quantitative"},
        "text": {"field": "t"}
      }
    },
    {
      "data": {"values": [{}]},
      "mark": {"type": "rect", "fill": "#000000"},
      "encoding": {
        "x": {"datum": 193.59, "type": "quantitative"}, "x2": {"datum": 238.4},
        "y": {"datum": 59.74, "type": "quantitative"}, "y2": {"datum": 56.4}
      }
    },
    {
      "data": {"values": [{"t": "fxdailyreport.com"}]},
      "mark": {"type": "text", "align": "left", "baseline": "alphabetic", "font": "Liberation Sans", "fontSize": 42, "color": "#3ad13a"},
      "encoding": {
        "x": {"datum": 195.19, "type": "quantitative"},
        "y": {"datum": 57.57, "type": "quantitative"},
        "text": {"field": "t"}
      }
    }
  ]
}
